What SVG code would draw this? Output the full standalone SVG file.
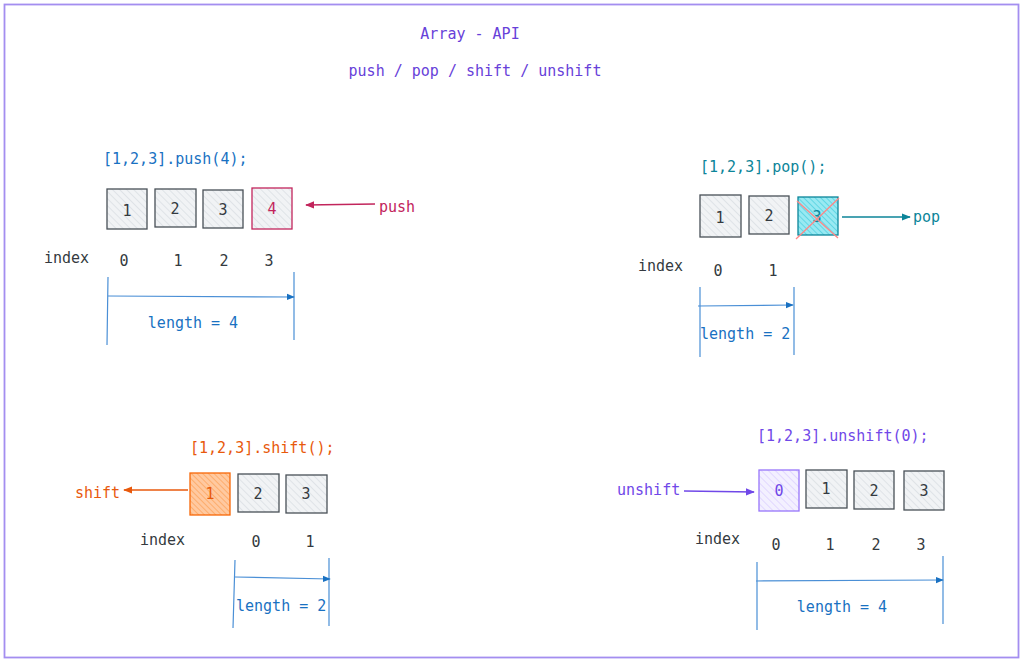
<svg xmlns="http://www.w3.org/2000/svg" width="1024" height="662" viewBox="0 0 1024 662">
<defs>
<pattern id="hGray" width="5" height="5" patternUnits="userSpaceOnUse" patternTransform="rotate(-45)">
<rect width="5" height="5" fill="#f1f3f5"/><line x1="0" y1="0" x2="0" y2="5" stroke="#ced4da" stroke-width="1"/></pattern>
<pattern id="hTeal" width="4" height="4" patternUnits="userSpaceOnUse" patternTransform="rotate(-45)">
<rect width="4" height="4" fill="#99e9f2"/><line x1="0" y1="0" x2="0" y2="4" stroke="#3bc9db" stroke-width="1.2"/></pattern>
<pattern id="hOrange" width="4" height="4" patternUnits="userSpaceOnUse" patternTransform="rotate(-45)">
<rect width="4" height="4" fill="#ffc9a0"/><line x1="0" y1="0" x2="0" y2="4" stroke="#fd9a4a" stroke-width="1.2"/></pattern>
<pattern id="hPurple" width="5" height="5" patternUnits="userSpaceOnUse" patternTransform="rotate(-45)">
<rect width="5" height="5" fill="#f3f0ff"/><line x1="0" y1="0" x2="0" y2="5" stroke="#d0bfff" stroke-width="1"/></pattern>
<marker id="aBlue" viewBox="0 0 10 10" refX="9" refY="5" markerWidth="8" markerHeight="8" orient="auto" markerUnits="userSpaceOnUse"><path d="M0,1 L10,5 L0,9 Z" fill="#1971c2"/></marker>
<marker id="aPink" viewBox="0 0 10 10" refX="9" refY="5" markerWidth="9" markerHeight="9" orient="auto" markerUnits="userSpaceOnUse"><path d="M0,1 L10,5 L0,9 Z" fill="#c2255c"/></marker>
<marker id="aTeal" viewBox="0 0 10 10" refX="9" refY="5" markerWidth="9" markerHeight="9" orient="auto" markerUnits="userSpaceOnUse"><path d="M0,1 L10,5 L0,9 Z" fill="#0c8599"/></marker>
<marker id="aOrange" viewBox="0 0 10 10" refX="9" refY="5" markerWidth="9" markerHeight="9" orient="auto" markerUnits="userSpaceOnUse"><path d="M0,1 L10,5 L0,9 Z" fill="#e8590c"/></marker>
<marker id="aPurple" viewBox="0 0 10 10" refX="9" refY="5" markerWidth="9" markerHeight="9" orient="auto" markerUnits="userSpaceOnUse"><path d="M0,1 L10,5 L0,9 Z" fill="#7048e8"/></marker>
</defs>
<style>
text{font-family:"DejaVu Sans Mono","Liberation Mono",monospace;font-size:15px}
.c{text-anchor:middle}
.dark{fill:#343a40}
.blue{fill:#1971c2}
.box{fill:url(#hGray);stroke:#495057;stroke-width:1.3}
.ruler{stroke:#4a8fd6;stroke-width:1.2;fill:none}
</style>
<rect x="4.5" y="4.5" width="1014" height="653" fill="#fff" stroke="#a48ef0" stroke-width="1.8"/>
<g id="title">
<text x="470" y="39" class="c" fill="#6741d9">Array - API</text>
<text x="475" y="76" class="c" fill="#6741d9">push / pop / shift / unshift</text>
</g>
<g id="push">
<text x="103" y="164" class="blue">[1,2,3].push(4);</text>
<rect class="box" x="107" y="189" width="40" height="40"/>
<rect class="box" x="155" y="189" width="41" height="38"/>
<rect class="box" x="203" y="190" width="40" height="38"/>
<rect x="252" y="188" width="40" height="41" fill="url(#hGray)" stroke="#c2255c" stroke-width="1.3"/>
<text x="127" y="216" class="c dark">1</text>
<text x="175" y="214" class="c dark">2</text>
<text x="223" y="215" class="c dark">3</text>
<text x="272" y="214" class="c" fill="#c2255c">4</text>
<text x="379" y="212" fill="#c2255c">push</text>
<text x="44" y="263" class="dark">index</text>
<text x="124" y="266" class="c dark">0</text>
<text x="178" y="266" class="c dark">1</text>
<text x="224" y="266" class="c dark">2</text>
<text x="269" y="266" class="c dark">3</text>
<text x="193" y="328" class="c blue">length = 4</text>
</g>
<g id="pop">
<text x="700" y="172" fill="#0c8599">[1,2,3].pop();</text>
<rect class="box" x="700" y="195" width="41" height="42"/>
<rect class="box" x="749" y="196" width="40" height="38"/>
<rect x="798" y="197" width="40" height="38" fill="url(#hTeal)" stroke="#0c8599" stroke-width="1.3"/>
<text x="720" y="223" class="c dark">1</text>
<text x="769" y="221" class="c dark">2</text>
<text x="817" y="222" class="c" fill="#0c8599">3</text>
<path d="M796,239 L839,198 M797,201 L838,238" stroke="#ff8787" stroke-width="1.3" fill="none"/>
<text x="913" y="222" fill="#0c8599">pop</text>
<text x="638" y="271" class="dark">index</text>
<text x="718" y="276" class="c dark">0</text>
<text x="773" y="276" class="c dark">1</text>
<text x="700" y="339" class="blue">length = 2</text>
</g>
<g id="shift">
<text x="190" y="453" fill="#e8590c">[1,2,3].shift();</text>
<rect x="190" y="473" width="40" height="42" fill="url(#hOrange)" stroke="#f76707" stroke-width="1.3"/>
<rect class="box" x="238" y="474" width="41" height="38"/>
<rect class="box" x="286" y="475" width="41" height="38"/>
<text x="210" y="499" class="c" fill="#e8590c">1</text>
<text x="258" y="499" class="c dark">2</text>
<text x="306" y="499" class="c dark">3</text>
<text x="75" y="498" fill="#e8590c">shift</text>
<text x="140" y="545" class="dark">index</text>
<text x="256" y="547" class="c dark">0</text>
<text x="310" y="547" class="c dark">1</text>
<text x="236" y="611" class="blue">length = 2</text>
</g>
<g id="unshift">
<text x="757" y="441" fill="#7048e8">[1,2,3].unshift(0);</text>
<rect x="759" y="470" width="40" height="41" fill="url(#hPurple)" stroke="#9775fa" stroke-width="1.3"/>
<rect class="box" x="806" y="470" width="41" height="38"/>
<rect class="box" x="854" y="471" width="40" height="38"/>
<rect class="box" x="904" y="471" width="40" height="39"/>
<text x="779" y="496" class="c" fill="#7048e8">0</text>
<text x="826" y="494" class="c dark">1</text>
<text x="874" y="496" class="c dark">2</text>
<text x="924" y="496" class="c dark">3</text>
<text x="617" y="495" fill="#7048e8">unshift</text>
<text x="695" y="544" class="dark">index</text>
<text x="776" y="550" class="c dark">0</text>
<text x="830" y="550" class="c dark">1</text>
<text x="876" y="550" class="c dark">2</text>
<text x="921" y="550" class="c dark">3</text>
<text x="842" y="612" class="c blue">length = 4</text>
</g>
<g id="connectors">
<line x1="375" y1="204" x2="306" y2="205" stroke="#c2255c" stroke-width="1.3" marker-end="url(#aPink)"/>
<line x1="842" y1="217" x2="910" y2="217" stroke="#0c8599" stroke-width="1.3" marker-end="url(#aTeal)"/>
<line x1="188" y1="490" x2="124" y2="490" stroke="#e8590c" stroke-width="1.3" marker-end="url(#aOrange)"/>
<line x1="684" y1="491" x2="754" y2="492" stroke="#7048e8" stroke-width="1.3" marker-end="url(#aPurple)"/>
<path class="ruler" d="M108,277 L107,345 M294,272 L294,340"/>
<line class="ruler" x1="108" y1="296" x2="294" y2="297" marker-end="url(#aBlue)"/>
<path class="ruler" d="M700,287 L700,357 M794,287 L794,355"/>
<line class="ruler" x1="698" y1="306" x2="793" y2="305" marker-end="url(#aBlue)"/>
<path class="ruler" d="M235,560 L233,628 M329,558 L329,626"/>
<line class="ruler" x1="235" y1="577" x2="330" y2="579" marker-end="url(#aBlue)"/>
<path class="ruler" d="M757,562 L757,630 M943,556 L943,624"/>
<line class="ruler" x1="756" y1="581" x2="943" y2="580" marker-end="url(#aBlue)"/>
</g>
</svg>
